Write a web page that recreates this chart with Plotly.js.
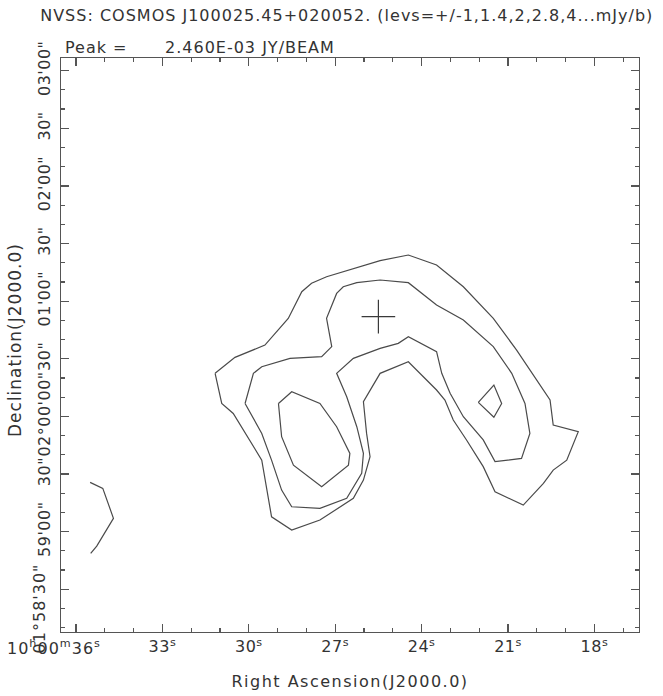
<!DOCTYPE html>
<html>
<head>
<meta charset="utf-8">
<script src="https://cdn.plot.ly/plotly-3.0.1.min.js"></script>
<style>
html,body{margin:0;padding:0;background:#fff;}
#chart{width:663px;height:696px;}
.gtitle{letter-spacing:1px;}
.xtitle{letter-spacing:1.5px;}
.xtick text,.ytick text{letter-spacing:0.5px;}
.annotation-text{letter-spacing:1px;}
</style>
</head>
<body>
<div id="chart"></div>
<script>
// RA in seconds of time (10h00m + s), Dec in arcsec offset from +02d00m00s
const level1Ra  = [31.17,30.48,29.44,28.63,28.16,27.82,27.30,26.49,25.44,24.46,23.48,22.55,21.51,20.70,20.00,19.54,19.43,18.56,18.96,19.43,19.77,20.47,21.45,21.86,22.44,22.90,23.19,23.48,24.46,25.44,26.02,25.91,25.79,26.02,26.37,27.53,28.51,29.21,29.55,30.54,30.94,31.17];
const level1Dec = [22.4,30.7,37.1,51.0,64.9,69.3,72.7,76.2,81.1,84.0,78.8,67.5,51.0,34.5,18.9,8.5,-4.5,-8.0,-22.8,-28.0,-34.9,-46.2,-39.3,-26.2,-12.3,-1.9,8.5,13.7,28.4,22.4,7.6,-8.9,-21.0,-33.2,-42.7,-54.0,-59.2,-52.3,-22.8,1.5,6.7,22.4];
const level2Ra  = [30.13,29.84,29.55,28.57,27.47,27.12,27.30,26.95,26.72,26.25,25.44,24.46,23.48,22.55,21.51,20.87,20.41,20.24,20.53,21.45,21.86,22.55,23.01,23.30,23.48,24.46,24.81,25.44,26.37,26.95,26.60,26.25,26.02,26.08,26.60,27.53,28.51,28.86,29.21,29.55,30.13];
const level2Dec = [6.7,22.4,25.8,30.2,31.1,36.3,51.0,64.0,67.5,69.6,71.0,69.6,58.0,50.2,36.3,22.4,6.7,-8.9,-21.9,-23.6,-12.3,-0.2,12.0,22.4,33.7,41.5,38.0,35.4,30.2,22.4,10.2,-5.4,-19.3,-29.7,-42.7,-47.9,-47.1,-38.4,-22.8,-8.9,6.7];
const level3aRa  = [28.97,28.51,27.53,26.95,26.49,26.54,27.47,28.45,28.86,28.97];
const level3aDec = [6.7,12.8,6.7,-5.4,-19.3,-25.4,-36.7,-25.4,-10.6,6.7];
const level3bRa  = [22.03,21.49,21.22,21.49,22.03];
const level3bDec = [7.3,16.3,6.7,-0.5,7.3];
const edgeRa  = [35.51,35.07,34.70,35.28,35.49];
const edgeDec = [-34.4,-37.5,-53.1,-67.6,-71.4];
const peakRa = [25.50];
const peakDec = [51.9];

const raTickVals = [36,33,30,27,24,21,18];
const raTickText = ['', '33<sup>s</sup>', '30<sup>s</sup>', '27<sup>s</sup>', '24<sup>s</sup>', '21<sup>s</sup>', '18<sup>s</sup>'];
const firstRaLabel = '10<sup>h</sup>00<sup>m</sup>36<sup>s</sup>';
const decTickVals = [180,150,120,90,60,30,0,-30,-60,-90];
const decTickText = ["03'00\"", "30\"", "02'00\"", "30\"", "01'00\"", "30\"", "02°00'00\"", "30\"", "59'00\"", ""];
const lastDecLabel = "01°58'30\"";

const titleText = 'NVSS: COSMOS J100025.45+020052. (levs=+/-1,1.4,2,2.8,4...mJy/b)';
const peakLabel = 'Peak =';
const peakValue = '2.460E-03 JY/BEAM';
const xTitle = 'Right Ascension(J2000.0)';
const yTitle = 'Declination(J2000.0)';

const lineColor = '#4a4a4a';
const textColor = '#333';
const fontFam = 'DejaVu Sans, sans-serif';

function contour(x, y) {
  return {x: x, y: y, type: 'scatter', mode: 'lines', line: {color: lineColor, width: 1.2}, hoverinfo: 'skip', showlegend: false};
}

const traces = [
  contour(level1Ra, level1Dec),
  contour(level2Ra, level2Dec),
  contour(level3aRa, level3aDec),
  contour(level3bRa, level3bDec),
  contour(edgeRa, edgeDec),
  {x: peakRa, y: peakDec, type: 'scatter', mode: 'markers', marker: {symbol: 'cross-thin-open', size: 24, color: '#3a3a3a', line: {color: '#3a3a3a', width: 1.2}}, showlegend: false}
];

const tickFont = {size: 16, family: fontFam, color: textColor};

const layout = {
  width: 663, height: 696,
  margin: {l: 61, r: 24, t: 58, b: 64},
  paper_bgcolor: '#fff', plot_bgcolor: '#fff',
  font: {family: fontFam, color: textColor, size: 16},
  title: {text: titleText, x: 0.523, xanchor: 'center', y: 0.978, yanchor: 'middle', yref: 'container', font: {size: 16, family: fontFam, color: textColor}},
  xaxis: {
    range: [36.521, 16.451], showgrid: false, zeroline: false,
    showline: true, mirror: 'allticks', linecolor: '#555', linewidth: 1.2,
    ticks: 'inside', ticklen: 8, tickwidth: 1.2, tickcolor: '#555',
    tickvals: raTickVals, ticktext: raTickText,
    tickfont: tickFont,
    minor: {dtick: 1, tick0: 0, ticks: 'inside', ticklen: 4, tickcolor: '#555', tickwidth: 1.2, showgrid: false},
    title: {text: xTitle, font: {size: 16, family: fontFam, color: textColor}, standoff: 20}
  },
  yaxis: {
    range: [-112.3, 186.6], showgrid: false, zeroline: false,
    showline: true, mirror: 'allticks', linecolor: '#555', linewidth: 1.2,
    ticks: 'inside', ticklen: 8, tickwidth: 1.2, tickcolor: '#555',
    tickvals: decTickVals, ticktext: decTickText, tickangle: -90,
    ticklabelstandoff: 3,
    tickfont: tickFont,
    minor: {dtick: 10, tick0: 0, ticks: 'inside', ticklen: 4, tickcolor: '#555', tickwidth: 1.2, showgrid: false}
  },
  annotations: [
    {text: firstRaLabel, x: 36, xref: 'x', y: 0, yref: 'paper', yanchor: 'top', yshift: -3, xanchor: 'center', xshift: -22, showarrow: false, font: tickFont},
    {text: lastDecLabel, x: 0, xref: 'paper', xanchor: 'center', xshift: -22, y: -100, yref: 'y', yanchor: 'middle', textangle: -90, showarrow: false, font: tickFont},
    {text: yTitle, x: 0, xref: 'paper', xanchor: 'center', xshift: -46, y: 0.5, yref: 'paper', yshift: 5, yanchor: 'middle', textangle: -90, showarrow: false, font: {size: 17, family: fontFam, color: textColor}},
    {text: peakLabel, x: 0, xref: 'paper', xshift: 2, y: 1, yref: 'paper', yanchor: 'bottom', yshift: -1, xanchor: 'left', showarrow: false, font: {size: 16, family: fontFam, color: textColor}},
    {text: peakValue, x: (163 - 61) / 578, xref: 'paper', y: 1, yref: 'paper', yanchor: 'bottom', yshift: -1, xanchor: 'left', showarrow: false, font: {size: 16, family: fontFam, color: textColor}}
  ]
};

Plotly.newPlot('chart', traces, layout, {displayModeBar: false, staticPlot: true});
</script>
</body>
</html>
